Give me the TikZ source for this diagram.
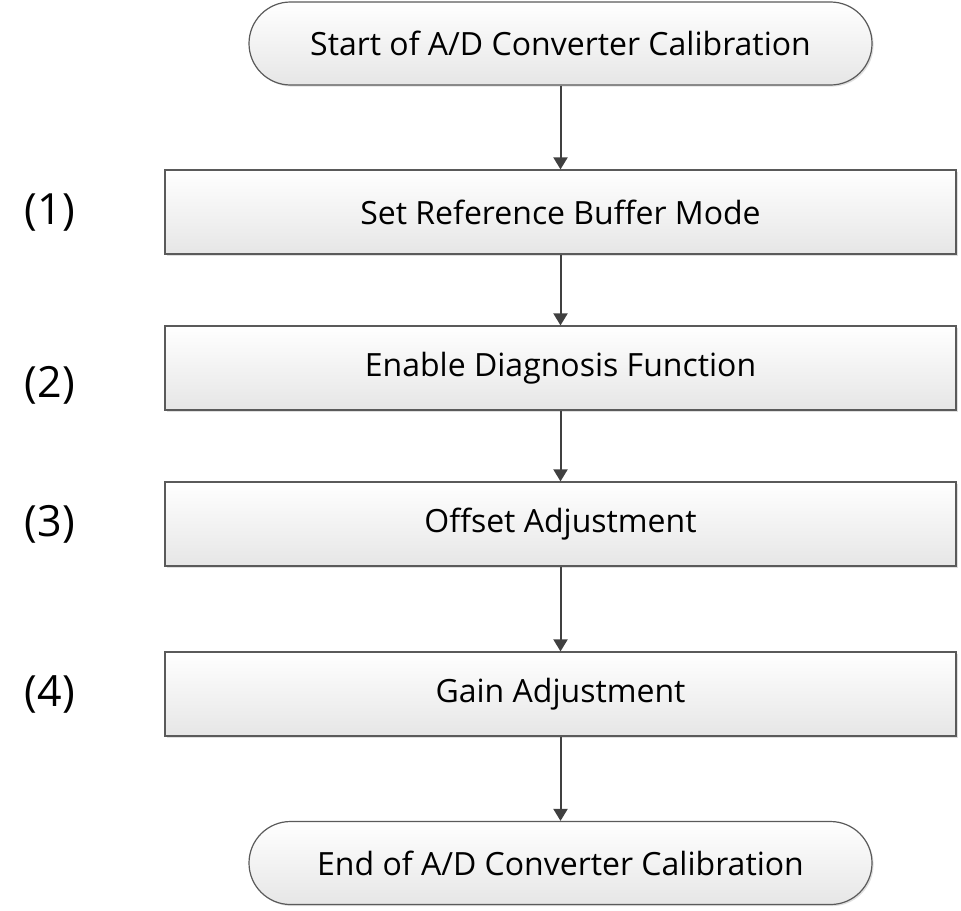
\documentclass[tikz,border=0pt]{standalone}
\usepackage{fontspec}
\setmainfont{Open Sans}
\usepackage{tikz}
\usetikzlibrary{arrows.meta,positioning,shadows}

\definecolor{linegray}{HTML}{5A5A5A}
\definecolor{arrowgray}{HTML}{404040}
\definecolor{fillbot}{HTML}{E6E6E6}

\tikzset{
    terminal/.style={draw=linegray, line width=0.6pt, rounded corners=20.75pt,
        minimum width=311.5pt, minimum height=41.5pt, top color=white, bottom color=fillbot,
        drop shadow={shadow xshift=0.8pt, shadow yshift=-0.8pt, opacity=0.25},
        font=\fontsize{16}{18}\selectfont},
    stepbox/.style={draw=linegray, line width=0.6pt,
        minimum width=395.5pt, minimum height=42pt, top color=white, bottom color=fillbot,
        drop shadow={shadow xshift=0.8pt, shadow yshift=-0.8pt, opacity=0.25},
        font=\fontsize{16}{18}\selectfont},
    steplabel/.style={font=\fontsize{21.5}{24}\selectfont},
    flow/.style={draw=arrowgray, line width=1pt, -{Triangle[width=7pt,length=6pt]}}
}

\begin{document}
\begin{tikzpicture}[x=0.5pt, y=-0.5pt]
        \useasboundingbox (0,0) rectangle (961,910);

        \node[terminal] (start) at (560.5, 43.5) {Start of A/D Converter Calibration};
        \node[stepbox] (buffer) at (560.5, 212) {Set Reference Buffer Mode};
        \node[stepbox] (diag) at (560.5, 368) {Enable Diagnosis Function};
        \node[stepbox] (offset) at (560.5, 524) {Offset Adjustment};
        \node[stepbox] (gain) at (560.5, 694) {Gain Adjustment};
        \node[terminal] (stop) at (560.5, 863) {End of A/D Converter Calibration};

        % step numbers
        \node[steplabel] (n1) at (50, 213) {(1)};
        \node[steplabel] (n2) at (50, 385) {(2)};
        \node[steplabel] (n3) at (50, 524) {(3)};
        \node[steplabel] (n4) at (50, 694) {(4)};

        \draw[flow] (start) -- (buffer);
        \draw[flow] (buffer) -- (diag);
        \draw[flow] (diag) -- (offset);
        \draw[flow] (offset) -- (gain);
        \draw[flow] (gain) -- (stop);
    \end{tikzpicture}
\end{document}
